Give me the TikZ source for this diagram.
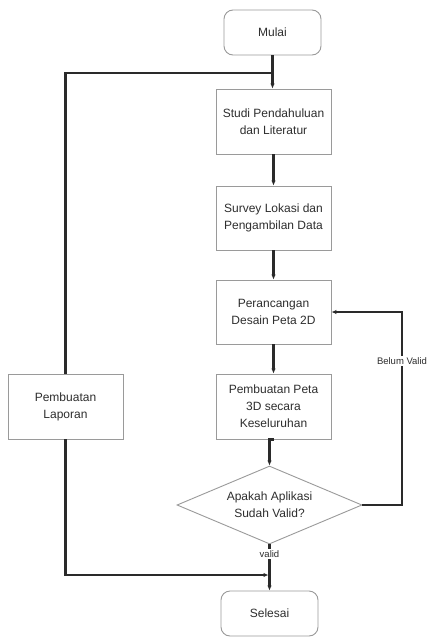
\documentclass[tikz,border=0pt]{standalone}
\usepackage{fontspec}
\setmainfont{Liberation Sans}
\usetikzlibrary{shapes.geometric,arrows.meta}
\definecolor{ln}{HTML}{2A2A2A}
\definecolor{bd}{HTML}{9A9A9A}
\definecolor{tx}{HTML}{2E2E2E}
\tikzset{
  procbox/.style={draw=bd, line width=0.9pt, rectangle, minimum width=115pt, minimum height=65pt, inner sep=2pt, align=center, text=tx, font=\fontsize{12pt}{17pt}\selectfont},
  termbox/.style={procbox, rounded corners=9pt, minimum width=97pt, minimum height=45pt},
  decbox/.style={draw=bd, line width=0.9pt, diamond, aspect=2.37, minimum width=185pt, minimum height=78pt, inner sep=0pt, align=center, text=tx, font=\fontsize{12pt}{17pt}\selectfont},
  conn/.style={draw=ln, line width=2.2pt},
  arr/.style={conn, -{Latex[length=5pt,width=4.5pt]}},
  lbl/.style={fill=white, inner sep=1.5pt, text=tx, font=\fontsize{9.5pt}{11pt}\selectfont}
}
\begin{document}
\begin{tikzpicture}[x=1pt,y=-1pt]
\useasboundingbox (0,0) rectangle (427,637);
\fill[white] (0,0) rectangle (427,637);
\node[termbox] (mulai) at (272.5,32.5) {Mulai};
\node[procbox] (s1) at (273.5,121.5) {Studi Pendahuluan\\dan Literatur};
\node[procbox, minimum height=64pt] (s2) at (273.5,218) {Survey Lokasi dan\\Pengambilan Data};
\node[procbox, minimum height=64pt] (s3) at (273.5,312) {Perancangan\\Desain Peta 2D};
\node[procbox] (s4) at (273.5,406.5) {Pembuatan Peta\\3D secara\\Keseluruhan};
\node[procbox] (lap) at (65.5,406.5) {Pembuatan\\Laporan};
\node[decbox] (dia) at (269.5,505) {Apakah Aplikasi\\Sudah Valid?};
\node[termbox] (sel) at (269.5,613.5) {Selesai};
\coordinate (j1) at (272.5,73);
\coordinate (j2) at (269.5,575);
\coordinate (fb) at (402,505);

\draw[arr] (mulai.south) -- (mulai.south |- s1.north);
\draw[conn] (lap.north) |- (j1);
\draw[arr] (s1) -- (s2);
\draw[arr] (s2) -- (s3);
\draw[arr] (s3) -- (s4);
\draw[arr] (s4.south) -- (s4.south -| dia.north) -- (dia.north);
\draw[arr] (dia.east) -- (fb) |- (s3.east) node[pos=0.373, lbl] {Belum Valid};
\draw[arr] (dia.south) -- (sel.north) node[pos=0.2, lbl] {valid};
\draw[arr] (lap.south) |- ([xshift=-1pt]j2);
\end{tikzpicture}
\end{document}
